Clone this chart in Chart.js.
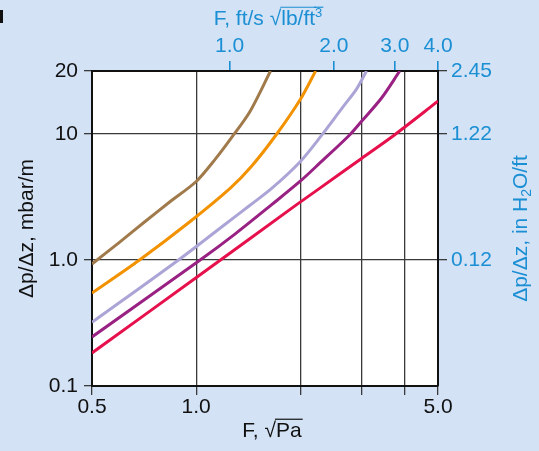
<!DOCTYPE html>
<html>
<head>
<meta charset="utf-8">
<script src="https://cdn.jsdelivr.net/npm/chart.js@4.4.1/dist/chart.umd.min.js"></script>
<style>
  html, body { margin: 0; padding: 0; background: #d3e2f5; }
  #wrap { position: relative; width: 539px; height: 451px; }
  #mark { position: absolute; left: 0; top: 10px; width: 3px; height: 13px; background: #111; }
  canvas { display: block; }
</style>
</head>
<body>
<div id="wrap">
  <canvas id="dpChart" width="539" height="451"></canvas>
  <div id="mark"></div>
</div>
<script>
// F factor in sqrt(Pa) vs pressure drop in mbar/m
const fBrown = [0.5, 0.6, 0.712, 0.84, 1.0, 1.14, 1.267, 1.431, 1.64];
const dpBrown = [0.93, 1.38, 2.02, 2.9, 4.2, 6.4, 9.4, 15.1, 31.6];

const fOrange = [0.5, 0.686, 0.961, 1.253, 1.45, 1.71, 1.995, 2.215];
const dpOrange = [0.547, 1.0, 2.02, 3.7, 5.6, 10.0, 18.6, 31.6];

const fLavender = [0.5, 0.889, 1.2, 1.431, 1.653, 1.995, 2.3, 2.66, 2.9, 3.107];
const dpLavender = [0.32, 1.0, 1.88, 2.72, 3.7, 6.0, 9.7, 16.5, 22.5, 31.6];

const fPurple = [0.5, 1.027, 1.3, 1.653, 1.995, 2.279, 2.781, 3.006, 3.434, 3.876];
const dpPurple = [0.245, 1.0, 1.62, 2.75, 4.2, 5.89, 9.87, 12.6, 19.3, 31.6];

const fCrimson = [0.5, 1.027, 1.952, 2.279, 3.006, 3.75, 5.0];
const dpCrimson = [0.183, 0.764, 2.75, 3.72, 6.4, 9.87, 18.2];

// axes (the top of the plot sits half a decade above 10, labelled "20")
const Y_MIN = 0.1;
const Y_TOP = 31.62;
const bottomTickVals = [0.5, 1, 2, 3, 4, 5];
const bottomTickLabels = ['0.5', '1.0', '', '', '', '5.0'];
const leftTickVals = [0.1, 1, 10, Y_TOP];
const leftTickLabels = ['0.1', '1.0', '10', '20'];
const rightTickVals = [1, 10, Y_TOP];
const rightTickLabels = ['0.12', '1.22', '2.45'];
const topTickVals = [1, 2, 3, 4];
const topTickLabels = ['1.0', '2.0', '3.0', '4.0'];
const FT_PER_PA = 1.25; // sqrt(Pa) per ft/s*sqrt(lb/ft3) as drawn

const BLUE = '#1b8fd3';
const GRID = '#3a3a3a';
const FONT = "'Liberation Sans', Arial, sans-serif";

const toPoints = (xs, ys) => xs.map((x, i) => ({ x, y: ys[i] }));

const curves = [
    { data: toPoints(fBrown, dpBrown), color: '#a07a4b' },
    { data: toPoints(fOrange, dpOrange), color: '#f39200' },
    { data: toPoints(fLavender, dpLavender), color: '#aaa5d6' },
    { data: toPoints(fPurple, dpPurple), color: '#992183' },
    { data: toPoints(fCrimson, dpCrimson), color: '#e6104c' }
];

const fixedTicks = (vals) => (scale) => { scale.ticks = vals.map(v => ({ value: v })); };

const plotBackground = {
    id: 'plotBackground',
    beforeDraw(chart) {
        const { ctx, chartArea: a } = chart;
        ctx.save();
        ctx.fillStyle = '#d3e2f5';
        ctx.fillRect(0, 0, chart.width, chart.height);
        ctx.fillStyle = '#fff';
        ctx.fillRect(a.left, a.top, a.right - a.left, a.bottom - a.top);
        ctx.restore();
    }
};

// draws runs of text centred on (0,0) of the current transform
function drawRuns(ctx, runs, color) {
    let total = 0;
    runs.forEach(r => {
        ctx.font = `${r.size}px ${FONT}`;
        r.w = ctx.measureText(r.t).width;
        total += r.w;
    });
    let x = -total / 2;
    ctx.fillStyle = color;
    ctx.strokeStyle = color;
    ctx.textBaseline = 'middle';
    ctx.textAlign = 'left';
    runs.forEach(r => {
        ctx.font = `${r.size}px ${FONT}`;
        ctx.fillText(r.t, x, r.dy || 0);
        if (r.bar) {
            ctx.lineWidth = 1.2;
            ctx.beginPath();
            ctx.moveTo(x - 1, -r.bar * 0.56);
            ctx.lineTo(x + r.w + 1, -r.bar * 0.56);
            ctx.stroke();
        }
        x += r.w;
    });
}

const axisTitles = {
    id: 'axisTitles',
    afterDraw(chart) {
        const { ctx, chartArea: a } = chart;
        const midX = (a.left + a.right) / 2;
        const midY = (a.top + a.bottom) / 2;
        ctx.save();

        ctx.setTransform(1, 0, 0, 1, midX + 3, 19);
        drawRuns(ctx, [
            { t: 'F, ft/s \u221A', size: 21 },
            { t: 'lb/ft', size: 21, bar: 21 },
            { t: '3', size: 13, dy: -6, bar: 21 }
        ], BLUE);

        ctx.setTransform(1, 0, 0, 1, midX + 7, 431);
        drawRuns(ctx, [
            { t: 'F, \u221A', size: 21 },
            { t: 'Pa', size: 21, bar: 21 }
        ], '#111');

        ctx.setTransform(0, -1, 1, 0, 27, midY);
        drawRuns(ctx, [{ t: '\u0394p/\u0394z, mbar/m', size: 21 }], '#111');

        ctx.setTransform(0, -1, 1, 0, 521, midY);
        drawRuns(ctx, [
            { t: '\u0394p/\u0394z, in H', size: 21 },
            { t: '2', size: 14, dy: 6 },
            { t: 'O/ft', size: 21 }
        ], BLUE);

        ctx.restore();
    }
};

const tickFont = { family: FONT, size: 21 };

new Chart(document.getElementById('dpChart'), {
    type: 'line',
    data: {
        datasets: curves.map(c => ({
            data: c.data,
            borderColor: c.color,
            borderWidth: 3,
            pointRadius: 0,
            fill: false,
            tension: 0.3,
            xAxisID: 'x',
            yAxisID: 'y'
        }))
    },
    options: {
        responsive: false,
        animation: false,
        devicePixelRatio: 1,
        layout: { padding: 0 },
        plugins: { legend: { display: false }, tooltip: { enabled: false } },
        scales: {
            x: {
                type: 'logarithmic',
                position: 'bottom',
                min: 0.5,
                max: 5,
                afterBuildTicks: fixedTicks(bottomTickVals),
                afterFit: (s) => { s.height = 65; },
                ticks: {
                    autoSkip: false, maxRotation: 0, padding: 0,
                    color: '#111', font: tickFont,
                    callback: (v, i) => bottomTickLabels[i]
                },
                grid: { color: GRID, lineWidth: 1.3, tickColor: GRID, tickLength: 9 },
                border: { display: true, color: '#111', width: 2 }
            },
            x2: {
                type: 'logarithmic',
                position: 'top',
                min: 0.5 / FT_PER_PA,
                max: 5 / FT_PER_PA,
                afterBuildTicks: fixedTicks(topTickVals),
                afterFit: (s) => { s.height = 71; },
                ticks: {
                    autoSkip: false, maxRotation: 0, padding: 2,
                    color: BLUE, font: tickFont,
                    callback: (v, i) => topTickLabels[i]
                },
                grid: { drawOnChartArea: false, tickColor: BLUE, tickLength: 10, lineWidth: 1.6 },
                border: { display: true, color: '#111', width: 2 }
            },
            y: {
                type: 'logarithmic',
                position: 'left',
                min: Y_MIN,
                max: Y_TOP,
                afterBuildTicks: fixedTicks(leftTickVals),
                afterFit: (s) => { s.width = 92; },
                ticks: {
                    autoSkip: false, padding: 6,
                    color: '#111', font: tickFont,
                    callback: (v, i) => leftTickLabels[i]
                },
                grid: { color: GRID, lineWidth: 1.3, tickColor: GRID, tickLength: 8 },
                border: { display: true, color: '#111', width: 2 }
            },
            y2: {
                type: 'logarithmic',
                position: 'right',
                min: Y_MIN,
                max: Y_TOP,
                afterBuildTicks: fixedTicks(rightTickVals),
                afterFit: (s) => { s.width = 101; },
                ticks: {
                    autoSkip: false, padding: 4,
                    color: BLUE, font: tickFont,
                    callback: (v, i) => rightTickLabels[i]
                },
                grid: { drawOnChartArea: false, tickColor: GRID, tickLength: 9, lineWidth: 1.3 },
                border: { display: true, color: '#111', width: 2 }
            }
        }
    },
    plugins: [plotBackground, axisTitles]
});
</script>
</body>
</html>
